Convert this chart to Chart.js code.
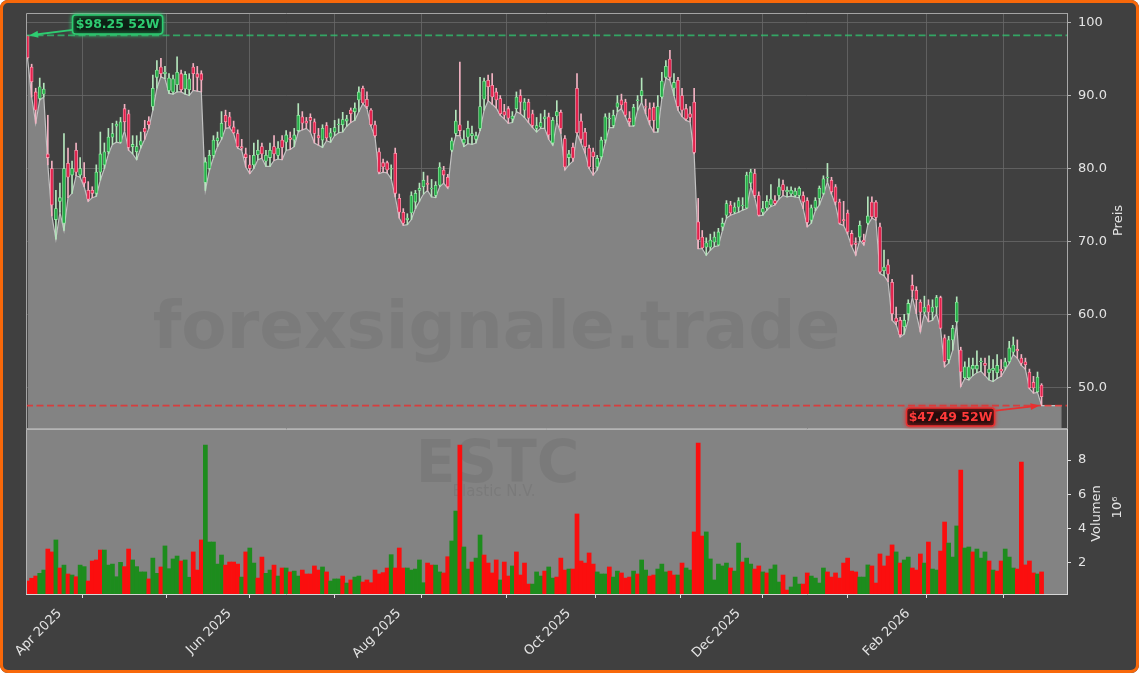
<!DOCTYPE html>
<html lang="de">
<head>
<meta charset="UTF-8">
<title>ESTC Kurs</title>
<script src="https://cdn.jsdelivr.net/npm/chart.js"></script>
<style>
  html, body { margin: 0; padding: 0; background: #ffffff; }
  #wrap { position: relative; width: 1139px; height: 673px; overflow: hidden; }
  #bg { position: absolute; left: 0; top: 0; width: 1139px; height: 673px; background: #404040; border-radius: 8px; }
  canvas { position: absolute; left: 0; top: 0; }
  #frame { position: absolute; left: 0; top: 0; width: 1139px; height: 673px; box-sizing: border-box;
           border: 3px solid #f8680a; border-radius: 8px; pointer-events: none; }
</style>
</head>
<body>
<div id="wrap">
  <div id="bg"></div>
  <canvas id="priceChart" width="1139" height="673"></canvas>
  <canvas id="volChart" width="1139" height="673"></canvas>
  <div id="frame"></div>
</div>
<script>
// Tageskerzen ESTC (USD), ein Eintrag pro Handelstag ab 27.03.2025
const openPx = [
  98.25,93.9,90.5,89.6,90.2,82.0,80.0,73.0,75.5,72.5,
  80.7,79.1,82.5,79.1,78.8,77.0,77.0,76.6,79.5,80.5,
  82.3,84.3,85.8,83.6,88.2,87.5,83.0,82.3,83.2,85.5,
  86.5,88.5,92.5,93.9,93.0,90.7,90.5,91.5,93.0,90.9,
  90.8,93.9,93.0,93.0,78.1,80.0,81.8,83.8,84.3,87.3,
  87.1,85.7,84.8,83.0,82.0,80.5,80.5,81.9,83.0,81.0,
  81.5,83.0,81.8,83.9,83.6,84.2,83.9,85.2,87.1,86.5,
  87.0,86.4,84.5,83.9,85.9,84.3,85.0,86.0,86.0,86.5,
  88.0,87.8,89.4,91.0,89.5,88.0,86.0,82.3,80.8,80.8,
  79.9,82.1,75.9,74.0,73.0,73.9,75.4,77.0,77.5,78.0,
  77.2,76.3,77.7,79.8,78.8,82.5,84.8,86.0,83.5,84.3,
  84.5,84.0,85.5,89.5,92.1,91.4,90.5,89.6,87.8,88.2,
  86.8,88.2,90.0,88.0,89.1,87.5,85.5,85.7,86.8,87.1,
  83.5,87.2,87.7,84.1,81.5,82.9,91.0,86.5,85.0,82.8,
  82.3,80.2,81.6,83.9,86.8,85.9,88.4,89.4,89.1,86.9,
  85.9,89.3,90.0,88.5,88.2,88.4,85.5,89.8,92.5,95.0,
  91.0,92.1,90.0,88.2,87.5,89.1,72.7,70.6,69.2,69.2,
  69.9,69.5,72.0,73.6,75.0,74.0,74.7,74.9,74.6,78.0,
  79.3,76.3,74.0,74.6,75.0,75.6,76.3,77.8,76.8,76.5,
  76.3,76.3,76.3,75.6,72.9,74.6,75.9,76.6,78.7,78.4,
  77.5,75.4,73.0,73.9,71.1,69.8,70.6,70.2,72.5,75.4,
  75.4,72.0,66.0,66.8,64.4,59.5,59.2,58.3,60.1,64.0,
  63.3,61.7,60.3,61.3,60.3,61.0,62.3,56.8,53.8,56.5,
  59.0,55.1,51.3,51.3,52.5,52.5,53.5,53.3,52.0,52.3,
  52.0,52.5,52.8,53.5,54.8,55.2,54.0,53.5,52.1,50.7,
  49.4,50.3
];
const highPx = [
  98.25,94.3,91.0,92.4,91.7,87.3,81.0,77.0,78.0,84.8,
  82.8,81.0,83.5,81.5,80.8,78.2,77.5,80.5,85.0,83.5,
  85.5,86.2,86.5,87.0,88.8,88.0,84.5,84.5,85.0,86.6,
  87.1,92.8,94.8,95.1,94.0,93.0,92.8,95.3,93.5,93.3,
  93.0,94.4,94.0,93.4,81.5,82.5,84.5,85.0,87.8,88.0,
  87.7,86.5,85.3,84.0,82.8,81.8,83.5,83.9,83.5,82.5,
  83.5,84.5,83.7,84.5,85.2,85.0,85.5,88.9,87.8,87.0,
  87.5,86.8,85.5,86.0,86.3,85.5,86.6,86.8,87.7,87.3,
  88.3,89.0,91.2,91.3,90.5,88.2,86.5,82.8,81.3,81.0,
  80.5,82.8,76.5,74.5,73.8,76.8,77.0,78.0,79.5,79.0,
  78.5,78.2,80.8,80.3,79.2,84.2,88.0,94.6,85.2,86.5,
  85.8,85.0,92.5,92.4,92.8,93.0,91.0,90.0,88.8,88.5,
  87.8,90.5,90.8,89.6,89.5,88.0,87.0,87.5,88.0,87.6,
  87.0,89.3,88.0,84.5,82.5,83.5,93.0,87.5,85.5,83.2,
  82.8,81.8,84.3,87.5,87.6,88.0,90.0,90.2,89.5,87.8,
  88.8,90.0,92.4,89.5,89.0,89.0,90.0,93.2,94.8,96.2,
  93.0,92.5,91.0,88.8,88.5,91.0,75.9,71.5,70.5,71.0,
  71.3,71.8,73.2,75.6,75.5,75.3,76.0,76.0,79.5,79.9,
  79.9,76.8,75.5,76.3,77.8,76.3,78.6,78.4,77.5,77.5,
  77.3,77.5,76.8,76.0,75.0,76.0,77.6,79.0,80.7,78.8,
  77.8,75.8,75.5,74.3,71.5,70.5,72.8,71.0,76.1,76.1,
  75.6,72.5,68.8,67.5,64.8,61.0,59.6,60.0,62.0,65.4,
  63.8,62.0,62.5,62.0,62.0,62.6,62.5,57.2,57.0,58.5,
  62.4,55.5,53.5,54.0,54.0,55.0,54.0,54.0,54.3,53.8,
  54.5,53.8,54.0,56.3,56.9,56.5,54.5,54.0,52.5,51.5,
  52.1,50.5
];
const lowPx = [
  95.0,89.8,86.2,89.4,89.8,80.5,73.5,70.3,74.0,71.5,
  76.0,76.6,79.0,78.8,77.5,75.5,76.0,76.2,78.4,80.0,
  82.0,83.3,83.6,83.5,85.2,82.5,82.0,81.2,82.8,84.0,
  85.5,88.0,91.0,92.6,92.3,90.3,90.2,90.5,90.5,90.2,
  90.0,90.7,90.6,90.5,77.0,79.8,81.5,83.0,84.0,85.5,
  85.6,84.8,82.8,82.5,80.2,79.3,80.0,81.2,81.4,80.3,
  80.3,81.1,81.3,81.2,82.5,82.6,83.0,85.0,85.3,85.5,
  85.0,83.5,83.2,82.9,83.8,83.6,84.5,84.9,85.0,85.8,
  86.3,86.6,87.8,88.9,88.2,85.8,84.3,79.3,79.5,79.4,
  78.6,76.1,73.2,72.2,72.3,73.0,74.5,75.5,76.5,77.0,
  76.1,76.0,77.5,78.0,77.3,82.3,84.5,84.5,83.0,83.4,
  83.3,83.5,85.2,88.0,89.3,88.8,88.3,87.3,86.8,86.2,
  86.3,87.8,87.5,87.0,86.3,85.6,85.0,85.5,85.5,84.0,
  83.2,86.4,84.8,79.8,80.5,81.0,84.8,83.5,82.1,80.0,
  79.1,79.8,81.3,83.5,85.6,85.6,87.8,88.2,87.1,85.8,
  85.8,88.0,89.1,87.5,86.0,85.0,85.0,89.6,92.4,92.1,
  90.0,88.0,87.1,86.6,86.4,82.0,69.0,69.0,68.1,68.8,
  69.3,69.4,71.5,73.2,73.6,73.8,74.0,74.3,74.5,77.5,
  76.0,73.5,73.6,74.3,74.8,75.0,75.8,76.3,76.1,76.2,
  76.1,76.0,74.5,72.0,72.5,74.2,75.0,76.4,78.2,76.5,
  75.0,72.4,72.2,71.0,69.3,68.1,70.2,69.5,72.3,73.2,
  72.9,65.6,65.3,64.5,59.2,58.6,56.9,57.3,59.2,62.4,
  60.1,57.6,60.1,59.0,59.2,60.1,58.0,52.8,53.3,55.1,
  58.8,50.1,51.2,51.0,51.6,52.0,52.2,51.6,51.0,50.8,
  51.2,51.5,52.4,53.3,54.5,54.0,53.0,52.5,49.8,49.2,
  49.3,47.49
];
const closePx = [
  95.2,91.9,88.0,91.2,90.9,81.5,75.0,74.5,76.0,80.0,
  78.8,80.0,79.5,80.0,78.0,75.8,76.6,79.5,82.0,82.3,
  84.3,84.8,86.1,86.4,86.4,82.9,83.3,83.0,83.8,85.0,
  86.0,91.0,93.5,93.0,93.2,92.4,92.3,93.2,90.8,92.9,
  92.3,93.0,92.5,92.1,80.9,81.8,83.9,84.2,86.2,86.4,
  85.8,84.9,83.0,82.8,81.5,80.0,81.8,82.5,82.0,81.8,
  82.5,82.0,82.8,82.9,84.6,84.0,84.6,87.3,86.2,86.2,
  86.6,84.8,84.2,85.5,84.2,84.9,85.6,86.1,86.7,86.8,
  87.5,88.3,90.5,89.0,88.5,86.0,84.5,79.5,80.2,79.8,
  80.0,76.6,74.0,72.5,73.2,76.3,76.6,77.3,78.4,77.8,
  77.3,77.7,80.2,79.1,77.5,83.8,86.5,85.2,84.0,85.5,
  84.8,84.5,88.5,92.0,91.2,89.8,89.4,87.5,87.3,86.9,
  87.2,89.8,89.1,89.1,86.9,85.9,85.9,86.3,87.1,84.6,
  86.6,87.8,85.5,80.2,82.0,81.4,84.9,84.0,83.0,80.2,
  81.6,81.4,83.9,87.1,86.9,87.3,89.0,88.7,87.3,86.4,
  88.4,89.4,90.7,88.4,86.6,86.6,88.5,92.0,94.0,92.5,
  91.8,88.5,88.0,86.8,87.0,82.2,70.2,69.1,69.8,70.2,
  70.6,71.3,72.5,75.2,73.9,74.7,75.6,75.0,79.1,79.5,
  76.3,73.6,74.5,75.5,75.8,75.2,77.5,77.0,77.0,77.0,
  76.9,77.3,75.4,72.6,74.6,75.6,77.3,78.6,78.8,76.8,
  75.4,72.5,72.8,71.3,69.5,69.6,72.2,69.9,73.5,73.4,
  73.3,65.8,66.5,65.5,60.1,59.0,57.2,59.2,61.5,63.3,
  62.0,60.3,61.0,60.3,61.0,62.3,58.1,53.5,56.5,58.1,
  61.7,52.1,52.8,52.8,53.0,53.0,53.6,53.0,52.5,52.6,
  53.0,52.2,53.5,55.4,55.8,55.0,53.3,53.1,49.9,49.9,
  51.4,48.7
];
// Volumen in Mio. Stück
const volumeM = [
  0.93,1.09,1.22,1.38,1.57,2.80,2.63,3.33,1.69,1.86,
  1.34,1.28,1.18,1.86,1.77,0.93,2.10,2.16,2.74,2.74,
  1.86,1.92,1.18,2.02,1.77,2.80,2.16,1.77,1.46,1.46,
  1.05,2.27,1.38,1.75,2.98,1.65,2.22,2.39,2.10,2.16,
  1.15,2.63,1.57,3.33,8.88,3.21,3.21,1.92,2.45,1.86,
  2.04,2.04,1.92,1.16,2.63,2.86,1.98,1.10,2.33,1.38,
  1.57,1.86,1.22,1.69,1.69,1.46,1.51,1.22,1.57,1.34,
  1.34,1.81,1.57,1.75,1.46,0.93,1.05,1.05,1.22,0.81,
  0.99,1.16,1.22,0.87,0.99,0.83,1.57,1.34,1.42,1.69,
  2.47,1.69,2.86,1.69,1.69,1.57,1.63,2.16,0.83,1.98,
  1.86,1.86,1.46,1.40,2.35,3.27,5.02,8.88,2.92,1.63,
  2.04,2.27,3.62,2.45,1.98,1.40,2.16,0.99,2.04,1.22,
  1.81,2.63,1.28,1.98,0.75,0.75,1.46,1.22,1.51,1.75,
  1.10,1.16,2.27,1.57,1.63,1.63,4.85,2.10,1.98,2.57,
  1.92,1.46,1.34,1.34,1.75,1.16,1.51,1.40,1.10,1.16,
  1.51,1.34,2.16,1.57,1.22,1.28,1.63,1.92,1.46,1.51,
  1.28,1.28,1.98,1.69,1.57,3.80,9.00,3.56,3.80,2.22,
  0.99,1.92,1.81,1.98,1.69,1.51,3.15,2.04,2.27,1.92,
  1.63,1.81,1.46,1.40,1.63,1.87,0.87,1.28,0.40,0.58,
  1.16,0.75,0.75,1.40,1.22,1.10,0.81,1.69,1.46,1.16,
  1.40,1.10,1.98,2.27,1.51,1.46,1.16,1.16,1.87,1.81,
  0.81,2.51,1.81,2.39,3.04,2.63,1.98,2.16,2.33,1.69,
  1.57,2.51,1.98,3.21,1.63,1.57,2.68,4.38,3.15,2.33,
  4.15,7.42,2.86,2.92,2.63,2.80,2.27,2.63,2.10,1.57,
  1.51,2.10,2.80,2.33,1.69,1.63,7.89,1.87,2.10,1.40,
  1.34,1.46
];
// Farbe der Volumenbalken: u = gruen, d = rot
const volumeColors = [
  'd','d','d','u','u','d','d','u','d','u', 'd','u','d','u','u','d','d','d','d','u',
  'u','u','u','u','d','d','u','u','u','u', 'd','u','u','d','u','u','u','u','d','u',
  'u','d','d','d','u','u','u','u','u','d', 'd','d','d','u','d','u','u','d','d','u',
  'u','d','u','d','u','d','u','u','d','d', 'd','d','d','u','d','u','u','u','d','u',
  'd','u','u','d','d','d','d','d','d','d', 'u','d','d','d','u','u','u','u','u','d',
  'd','u','u','d','d','u','u','d','u','u', 'd','u','u','d','d','d','d','u','d','d',
  'u','d','d','d','d','u','u','u','d','u', 'u','d','d','d','u','d','d','d','d','d',
  'd','u','u','u','d','u','u','d','d','d', 'u','d','u','u','d','d','u','u','u','d',
  'd','u','d','u','u','d','d','d','u','u', 'u','u','u','u','d','u','u','d','u','u',
  'd','d','u','d','u','u','u','d','d','u', 'u','u','d','d','u','u','u','u','d','d',
  'd','d','d','d','d','d','u','u','u','d', 'd','d','d','d','d','u','d','u','u','d',
  'd','d','u','d','u','u','d','d','u','u', 'u','d','u','u','d','u','u','u','d','u',
  'd','d','u','u','u','d','d','d','d','d', 'u','d'
];
const firstTradingDay = '2025-03-27';
const marketHolidays = ['2025-04-18','2025-05-26','2025-06-19','2025-07-04','2025-09-01',
                        '2025-11-27','2025-12-25','2026-01-01','2026-01-19','2026-02-16'];
const monthNames = ['Jan','Feb','Mar','Apr','May','Jun','Jul','Aug','Sep','Oct','Nov','Dec'];
const priceTicks = [50, 60, 70, 80, 90, 100];
const volumeTicks = [2, 4, 6, 8];

// Achsenbereiche (Handelstag-Index auf x)
const X_MIN = -0.4, X_MAX = 257.3;
const PRICE_MIN = 44.42, PRICE_MAX = 101.32;
const VOL_MIN = 0.17, VOL_MAX = 9.82;
const AREA_EXTRA_DAYS = 5;

const FONT = '"DejaVu Sans", sans-serif';
const TXT = '#e4e4e4';
const GRAY = '#838383';

// Handelstage und Monatsticks
const days = [];
const cur = new Date(firstTradingDay + 'T00:00:00Z');
while (days.length < closePx.length) {
  const iso = cur.toISOString().slice(0, 10);
  const wd = cur.getUTCDay();
  if (wd !== 0 && wd !== 6 && !marketHolidays.includes(iso)) days.push(new Date(cur));
  cur.setUTCDate(cur.getUTCDate() + 1);
}
const monthTicks = [], monthLabels = [];
for (let i = 1; i < days.length; i++) {
  const m = days[i].getUTCMonth();
  if (m !== days[i - 1].getUTCMonth()) {
    monthTicks.push(i);
    monthLabels.push(m % 2 === 1 ? monthNames[m] + ' ' + days[i].getUTCFullYear() : '');
  }
}

const up = closePx.map((c, i) => c >= openPx[i]);
const bodies = openPx.map((o, i) => ({ x: i, y: [o, closePx[i]] }));
const wicks = lowPx.map((l, i) => ({ x: i, y: [l, highPx[i]] }));
const lowArea = lowPx.map((l, i) => ({ x: i, y: l }));
lowArea.push({ x: lowPx.length - 1 + AREA_EXTRA_DAYS, y: lowPx[lowPx.length - 1] });

const yearHigh = Math.max(...highPx);
const yearLow = Math.min(...lowPx);
const hiIdx = highPx.indexOf(yearHigh);
const loIdx = lowPx.indexOf(yearLow);

function box(ctx, x, y, w, h, fill, stroke, text, color) {
  ctx.save();
  ctx.shadowColor = stroke;
  ctx.shadowBlur = 4;
  ctx.beginPath();
  ctx.roundRect(x, y, w, h, 3);
  ctx.fillStyle = fill;
  ctx.fill();
  ctx.lineWidth = 1.5;
  ctx.strokeStyle = stroke;
  ctx.stroke();
  ctx.shadowBlur = 0;
  ctx.fillStyle = color;
  ctx.font = 'bold 12.5px ' + FONT;
  ctx.textAlign = 'center';
  ctx.textBaseline = 'middle';
  ctx.fillText(text, x + w / 2, y + h / 2 + 0.5);
  ctx.restore();
}

function arrow(ctx, x0, y0, x1, y1, color) {
  const a = Math.atan2(y1 - y0, x1 - x0);
  ctx.save();
  ctx.strokeStyle = color;
  ctx.fillStyle = color;
  ctx.lineWidth = 1.8;
  ctx.beginPath();
  ctx.moveTo(x0, y0);
  ctx.lineTo(x1 - 7 * Math.cos(a), y1 - 7 * Math.sin(a));
  ctx.stroke();
  ctx.beginPath();
  ctx.moveTo(x1, y1);
  ctx.lineTo(x1 - 9 * Math.cos(a) + 3.5 * Math.sin(a), y1 - 9 * Math.sin(a) - 3.5 * Math.cos(a));
  ctx.lineTo(x1 - 9 * Math.cos(a) - 3.5 * Math.sin(a), y1 - 9 * Math.sin(a) + 3.5 * Math.cos(a));
  ctx.closePath();
  ctx.fill();
  ctx.restore();
}

function vText(ctx, text, x, y) {
  ctx.save();
  ctx.translate(x, y);
  ctx.rotate(-Math.PI / 2);
  ctx.textAlign = 'center';
  ctx.textBaseline = 'middle';
  ctx.fillText(text, 0, 0);
  ctx.restore();
}

const pricePlugin = {
  id: 'priceDeco',
  afterDatasetsDraw(chart) {
    const { ctx, chartArea: a, scales: { x, y } } = chart;
    ctx.save();
    // Wasserzeichen
    ctx.fillStyle = 'rgba(0,0,0,0.06)';
    ctx.font = 'bold 66px ' + FONT;
    ctx.textAlign = 'center';
    ctx.textBaseline = 'alphabetic';
    ctx.fillText('forexsignale.trade', 496.5, 348);

    // 52-Wochen-Linien
    const yh = y.getPixelForValue(yearHigh);
    const yl = y.getPixelForValue(yearLow);
    ctx.lineWidth = 1.8;
    ctx.setLineDash([7, 3.5]);
    ctx.strokeStyle = 'rgba(46,204,113,0.72)';
    ctx.beginPath(); ctx.moveTo(a.left, yh); ctx.lineTo(a.right, yh); ctx.stroke();
    ctx.strokeStyle = 'rgba(230,50,50,0.85)';
    ctx.beginPath(); ctx.moveTo(a.left, yl); ctx.lineTo(a.right, yl); ctx.stroke();
    ctx.setLineDash([]);

    // linke / obere Achsenlinie
    ctx.strokeStyle = '#a4a4a4';
    ctx.lineWidth = 1;
    ctx.beginPath();
    ctx.moveTo(a.left + 0.5, a.bottom); ctx.lineTo(a.left + 0.5, a.top + 0.5); ctx.lineTo(a.right, a.top + 0.5);
    ctx.stroke();

    // Beschriftungen
    const xh = x.getPixelForValue(hiIdx);
    box(ctx, xh + 45, yh - 20.5, 90, 19, '#0d2015', '#2ecc71', '$' + yearHigh.toFixed(2) + ' 52W', '#2ecc71');
    arrow(ctx, xh + 45, yh - 5.5, xh + 1.5, yh, '#2ecc71');
    const xl = x.getPixelForValue(loIdx);
    box(ctx, xl - 135, yl + 2.5, 88, 18, '#260c0c', '#e83030', '$' + yearLow.toFixed(2) + ' 52W', '#ff3a3a');
    arrow(ctx, xl - 46, yl + 5, xl - 2, yl, '#e83030');

    ctx.fillStyle = TXT;
    ctx.font = '13px ' + FONT;
    vText(ctx, 'Preis', 1119, (a.top + a.bottom) / 2);
    ctx.restore();
  }
};

const volPlugin = {
  id: 'volDeco',
  beforeDraw(chart) {
    const { ctx, chartArea: a } = chart;
    ctx.save();
    ctx.fillStyle = GRAY;
    ctx.fillRect(a.left, a.top, a.right - a.left, a.bottom - a.top);
    ctx.restore();
  },
  beforeDatasetsDraw(chart) {
    const { ctx } = chart;
    ctx.save();
    ctx.fillStyle = 'rgba(0,0,0,0.065)';
    ctx.textAlign = 'center';
    ctx.textBaseline = 'alphabetic';
    ctx.font = 'bold 58px ' + FONT;
    ctx.fillText('ESTC', 497.5, 481.5);
    ctx.font = '15px ' + FONT;
    ctx.fillText('Elastic N.V.', 494, 496);
    ctx.restore();
  },
  afterDraw(chart) {
    const { ctx, chartArea: a } = chart;
    ctx.save();
    ctx.strokeStyle = '#b4b4b4';
    ctx.lineWidth = 1;
    ctx.beginPath();
    ctx.moveTo(a.left + 0.5, a.bottom); ctx.lineTo(a.left + 0.5, a.top + 0.5); ctx.lineTo(a.right, a.top + 0.5);
    ctx.stroke();
    ctx.fillStyle = TXT;
    ctx.font = '13px ' + FONT;
    vText(ctx, 'Volumen', 1097, (a.top + a.bottom) / 2 + 2);
    vText(ctx, '10\u2076', 1118, (a.top + a.bottom) / 2 - 4);
    ctx.restore();
  }
};

Chart.defaults.font.family = FONT;
Chart.defaults.font.size = 13;
Chart.defaults.color = TXT;

new Chart(document.getElementById('priceChart'), {
  type: 'bar',
  data: {
    datasets: [
      { type: 'bar', label: 'Kerze', data: bodies,
        backgroundColor: up.map(u => u ? '#26ad48' : '#e2224d'),
        borderColor: up.map(u => u ? '#93eca4' : '#ff9cb2'),
        borderWidth: 0.8, borderSkipped: false, barThickness: 3, grouped: false, order: 1 },
      { type: 'bar', label: 'Docht', data: wicks,
        backgroundColor: up.map(u => u ? '#b4e6bc' : '#f2b2c2'),
        barThickness: 1, grouped: false, order: 2 },
      { type: 'line', label: 'Tief', data: lowArea, fill: 'start',
        backgroundColor: GRAY, borderColor: '#c2c2c2', borderWidth: 1.2,
        pointRadius: 0, tension: 0, order: 3 }
    ]
  },
  options: {
    responsive: false, animation: false, devicePixelRatio: 1,
    layout: { padding: { top: 13, left: 26, right: 0, bottom: 245 } },
    plugins: { legend: { display: false }, tooltip: { enabled: false } },
    scales: {
      x: {
        type: 'linear', min: X_MIN, max: X_MAX, offset: false,
        afterBuildTicks: s => { s.ticks = monthTicks.map(v => ({ value: v })); },
        afterFit: s => { s.height = 0; s.paddingLeft = 0; s.paddingRight = 0; },
        ticks: { display: false },
        grid: { color: '#686868', lineWidth: 0.8, drawTicks: false },
        border: { display: true, color: '#a8a8a8' }
      },
      y: {
        position: 'right', min: PRICE_MIN, max: PRICE_MAX,
        afterBuildTicks: s => { s.ticks = priceTicks.map(v => ({ value: v })); },
        afterFit: s => { s.width = 72; s.paddingTop = 0; s.paddingBottom = 0; },
        ticks: { color: TXT, padding: 7, callback: v => Number(v).toPrecision(3) },
        grid: { color: '#686868', lineWidth: 0.8, tickLength: 4, tickColor: '#d0d0d0' },
        border: { display: true, color: '#a8a8a8' }
      }
    }
  },
  plugins: [pricePlugin]
});

new Chart(document.getElementById('volChart'), {
  type: 'bar',
  data: {
    datasets: [{
      label: 'Volumen', data: volumeM.map((v, i) => ({ x: i, y: v })),
      backgroundColor: volumeColors.map(s => s === 'u' ? '#1d8c1d' : '#fb0e0e'),
      barPercentage: 1, categoryPercentage: 1, borderWidth: 0
    }]
  },
  options: {
    responsive: false, animation: false, devicePixelRatio: 1,
    layout: { padding: { top: 429, left: 26, right: 0, bottom: 0 } },
    plugins: { legend: { display: false }, tooltip: { enabled: false } },
    scales: {
      x: {
        type: 'linear', min: X_MIN, max: X_MAX, offset: false,
        afterBuildTicks: s => { s.ticks = monthTicks.map(v => ({ value: v })); },
        afterFit: s => { s.height = 79; s.paddingLeft = 0; s.paddingRight = 0; },
        ticks: { autoSkip: false, minRotation: 45, maxRotation: 45, labelOffset: 20, padding: 8,
                 color: TXT, callback: (v, i) => monthLabels[i] },
        grid: { drawOnChartArea: false, tickLength: 4, tickColor: '#e0e0e0' },
        border: { display: true, color: '#d6d6d6' }
      },
      y: {
        position: 'right', min: VOL_MIN, max: VOL_MAX,
        afterBuildTicks: s => { s.ticks = volumeTicks.map(v => ({ value: v })); },
        afterFit: s => { s.width = 72; s.paddingTop = 0; s.paddingBottom = 0; },
        ticks: { color: TXT, padding: 7 },
        grid: { drawOnChartArea: false, tickLength: 4, tickColor: '#e0e0e0' },
        border: { display: true, color: '#d6d6d6' }
      }
    }
  },
  plugins: [volPlugin]
});
</script>
</body>
</html>
